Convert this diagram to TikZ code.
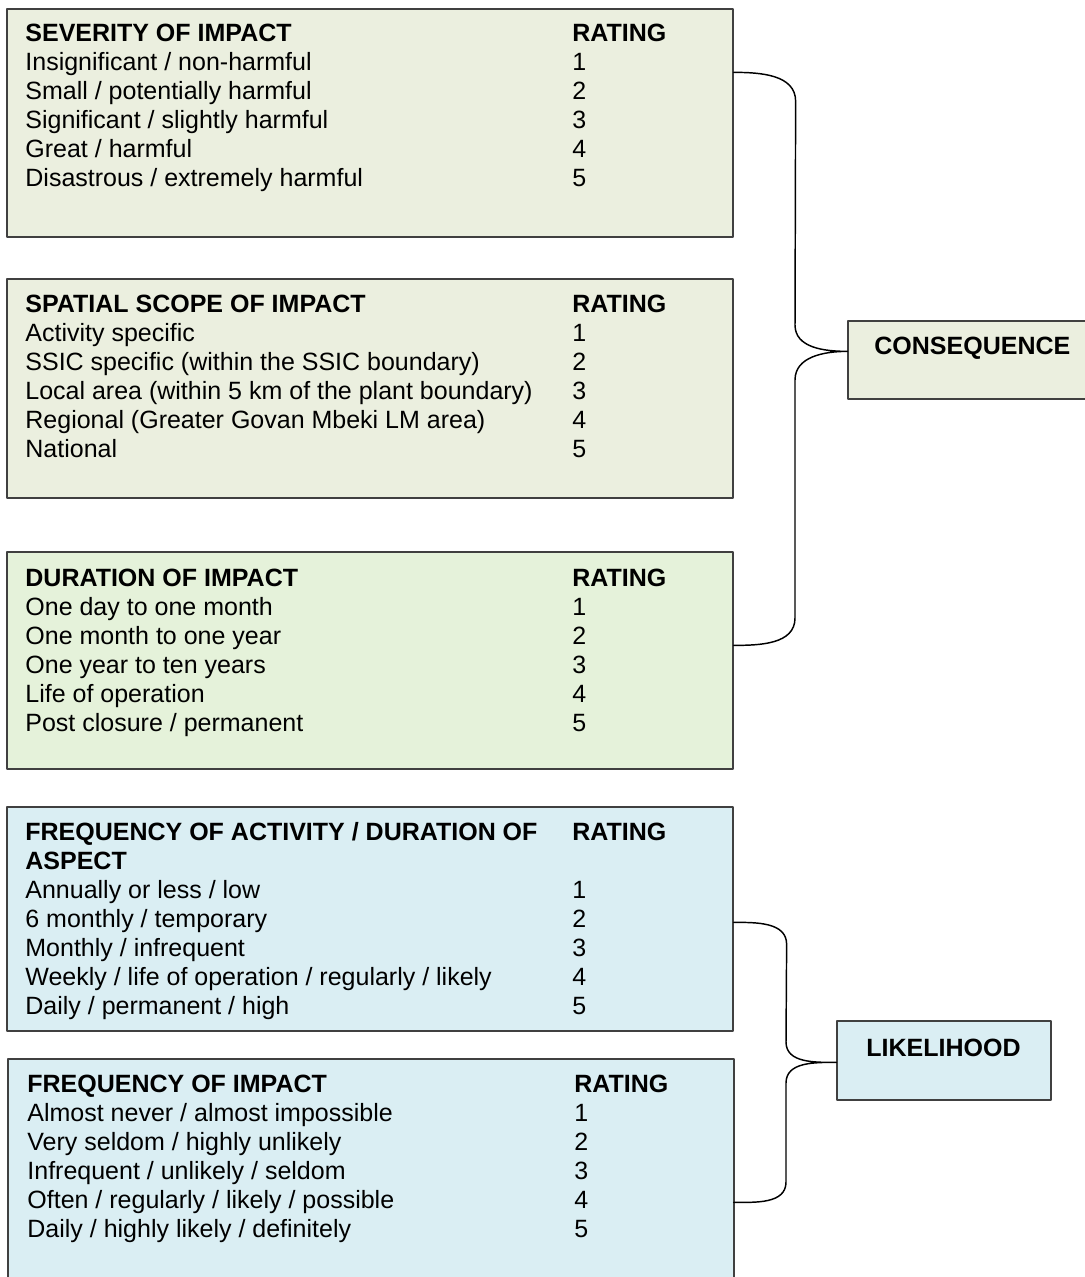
\documentclass[tikz,border=0pt]{standalone}
\usepackage{fontspec}
\setmainfont{Liberation Sans}
\usetikzlibrary{fit,calc}
\definecolor{oliveback}{HTML}{EBEFDF}
\definecolor{greenback}{HTML}{E5F2DA}
\definecolor{blueback}{HTML}{DAEEF3}
\newcommand{\ratingtable}[1]{\begin{tabular}[t]{@{}p{262.56pt}@{}l@{}}#1\end{tabular}}

\begin{document}
\begin{tikzpicture}[x=0.48pt,y=-0.48pt,line cap=round,line join=round,
  font=\fontsize{12pt}{13.92pt}\selectfont,
  panel/.style={draw=black!75,line width=0.6pt,inner sep=0pt},
  olivepanel/.style={panel,fill=oliveback},
  greenpanel/.style={panel,fill=greenback},
  bluepanel/.style={panel,fill=blueback},
  rows/.style={anchor=base west,inner sep=0pt},
  brace/.style={line width=0.7pt}]
  \useasboundingbox (0,0) rectangle (1084,1277);
  % consequence panels
  \node[olivepanel,fit={(7,9) (733,237)}] (severity) {};
  \node[olivepanel,fit={(7,279) (733,498)}] (spatial) {};
  \node[greenpanel,fit={(7,552) (733,769)}] (duration) {};
  \node[olivepanel,fit={(848,321) (1096,399)}] (consequence) {};
  % likelihood panels
  \node[bluepanel,fit={(7,807) (733,1031)}] (activity) {};
  \node[bluepanel,fit={(8,1059) (734,1295)}] (frequency) {};
  \node[bluepanel,fit={(837,1021) (1051,1100)}] (likelihood) {};

  \node[rows] (severity-rows) at (25,42) {\ratingtable{%
    \textbf{SEVERITY OF IMPACT} & \textbf{RATING}\\
    Insignificant / non-harmful & 1\\
    Small / potentially harmful & 2\\
    Significant / slightly harmful & 3\\
    Great / harmful & 4\\
    Disastrous / extremely harmful & 5}};
  \node[rows] (spatial-rows) at (25,313) {\ratingtable{%
    \textbf{SPATIAL SCOPE OF IMPACT} & \textbf{RATING}\\
    Activity specific & 1\\
    SSIC specific (within the SSIC boundary) & 2\\
    Local area (within 5 km of the plant boundary) & 3\\
    Regional (Greater Govan Mbeki LM area) & 4\\
    National & 5}};
  \node[rows] (duration-rows) at (25,586) {\ratingtable{%
    \textbf{DURATION OF IMPACT} & \textbf{RATING}\\
    One day to one month & 1\\
    One month to one year & 2\\
    One year to ten years & 3\\
    Life of operation & 4\\
    Post closure / permanent & 5}};
  \node[rows] (activity-rows) at (25,840) {\ratingtable{%
    \textbf{FREQUENCY OF ACTIVITY / DURATION OF} & \textbf{RATING}\\
    \textbf{ASPECT} & \\
    Annually or less / low & 1\\
    6 monthly / temporary & 2\\
    Monthly / infrequent & 3\\
    Weekly / life of operation / regularly / likely & 4\\
    Daily / permanent / high & 5}};
  \node[rows] (frequency-rows) at (27,1092) {\ratingtable{%
    \textbf{FREQUENCY OF IMPACT} & \textbf{RATING}\\
    Almost never / almost impossible & 1\\
    Very seldom / highly unlikely & 2\\
    Infrequent / unlikely / seldom & 3\\
    Often / regularly / likely / possible & 4\\
    Daily / highly likely / definitely & 5}};
  \node[rows,font=\fontsize{12pt}{13.92pt}\selectfont\bfseries] (consequence-label) at (874,355) {CONSEQUENCE};
  \node[rows,font=\fontsize{12pt}{13.92pt}\selectfont\bfseries] (likelihood-label) at (866,1056) {LIKELIHOOD};

  % braces
  \coordinate (con-top) at ($(severity.north east)+(0,64)$);
  \coordinate (con-tip) at ($(consequence.north west)+(0,31)$);
  \coordinate (con-bot) at ($(duration.north east)+(0,94)$);
  \draw[brace] (con-top) to[out=0,in=90] ++(62,29) -- (795,325) to[out=-90,in=180] (con-tip)
    to[out=180,in=90] (795,380) -- (795,618) to[out=-90,in=0] (con-bot);
  \coordinate (lik-top) at ($(activity.north east)+(0,116)$);
  \coordinate (lik-tip) at ($(likelihood.north west)+(0,42)$);
  \coordinate (lik-bot) at ($(frequency.north east)+(-1,144)$);
  \draw[brace] (lik-top) to[out=0,in=90] ++(53,22) -- (786,1042) to[out=-90,in=180] (lik-tip)
    to[out=180,in=90] (786,1083) -- (786,1182) to[out=-90,in=0] (lik-bot);
\end{tikzpicture}
\end{document}
